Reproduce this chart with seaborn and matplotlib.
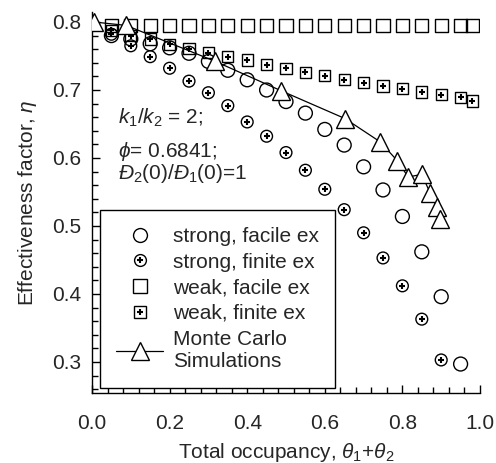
import matplotlib
matplotlib.use("Agg")
import matplotlib.pyplot as plt
from matplotlib.lines import Line2D
from matplotlib.legend_handler import HandlerTuple
from matplotlib.ticker import MultipleLocator, FormatStrFormatter
import seaborn as sns

# Total occupancy values for the model curves
theta_strong_facile = [0.05, 0.10, 0.15, 0.20, 0.25, 0.30, 0.35, 0.40, 0.45, 0.50,
                       0.55, 0.60, 0.65, 0.70, 0.75, 0.80, 0.85, 0.90, 0.95]
eta_strong_facile = [0.780, 0.775, 0.768, 0.762, 0.754, 0.742, 0.729, 0.715, 0.700, 0.683,
                     0.666, 0.642, 0.619, 0.587, 0.553, 0.514, 0.462, 0.396, 0.297]

theta_strong_finite = [0.05, 0.10, 0.15, 0.20, 0.25, 0.30, 0.35, 0.40, 0.45, 0.50,
                       0.55, 0.60, 0.65, 0.70, 0.75, 0.80, 0.85, 0.90]
eta_strong_finite = [0.782, 0.765, 0.749, 0.732, 0.713, 0.696, 0.677, 0.653, 0.632, 0.608,
                     0.582, 0.554, 0.524, 0.490, 0.453, 0.412, 0.363, 0.303]

theta_weak = [0.05, 0.10, 0.15, 0.20, 0.25, 0.30, 0.35, 0.40, 0.45, 0.50,
              0.55, 0.60, 0.65, 0.70, 0.75, 0.80, 0.85, 0.90, 0.95, 0.98]
eta_weak_facile = [0.795] * 20
eta_weak_finite = [0.788, 0.780, 0.775, 0.767, 0.761, 0.755, 0.749, 0.744, 0.737, 0.732,
                   0.726, 0.721, 0.715, 0.711, 0.706, 0.702, 0.697, 0.693, 0.689, 0.684]

# Monte Carlo simulation results
theta_mc = [0.005, 0.088, 0.318, 0.487, 0.652, 0.742, 0.787, 0.815, 0.850, 0.871, 0.888, 0.897]
eta_mc = [0.800, 0.795, 0.742, 0.699, 0.658, 0.624, 0.596, 0.572, 0.576, 0.549, 0.528, 0.511]

x_ticks = [0.0, 0.2, 0.4, 0.6, 0.8, 1.0]
y_ticks = [0.3, 0.4, 0.5, 0.6, 0.7, 0.8]

sns.set_style("ticks")
plt.rcParams["font.family"] = ["Liberation Sans", "DejaVu Sans"]
plt.rcParams["mathtext.fontset"] = "custom"
plt.rcParams["mathtext.rm"] = "Liberation Sans"
plt.rcParams["mathtext.it"] = "Liberation Sans:italic"
plt.rcParams["mathtext.bf"] = "Liberation Sans:bold"

FS = 15
fig = plt.figure(figsize=(4.96, 4.63), dpi=100)
ax = fig.add_axes([92 / 496, 1 - 393 / 463, 388 / 496, 381 / 463])

open_kw = dict(facecolor="none", edgecolor="black", color="black", linewidth=1.0, legend=False)
plus_kw = dict(color="black", linewidth=1.5, legend=False)

# strong adsorption, facile exchange
sns.scatterplot(x=theta_strong_facile, y=eta_strong_facile, marker="o", s=100, ax=ax, **open_kw)
# strong adsorption, finite exchange
sns.scatterplot(x=theta_strong_finite, y=eta_strong_finite, marker="o", s=72, ax=ax, **open_kw)
sns.scatterplot(x=theta_strong_finite, y=eta_strong_finite, marker="+", s=14, ax=ax, **plus_kw)
# weak adsorption, facile exchange
sns.scatterplot(x=theta_weak, y=eta_weak_facile, marker="s", s=92, ax=ax, **open_kw)
# weak adsorption, finite exchange
sns.scatterplot(x=theta_weak, y=eta_weak_finite, marker="s", s=66, ax=ax, **open_kw)
sns.scatterplot(x=theta_weak, y=eta_weak_finite, marker="+", s=16, ax=ax, **plus_kw)
# Monte Carlo
sns.lineplot(x=theta_mc, y=eta_mc, estimator=None, sort=False, color="black", linewidth=0.9,
             marker="^", markersize=12.5, markerfacecolor="white", markeredgecolor="black",
             markeredgewidth=1.0, ax=ax, legend=False, zorder=5)

ax.set_xlim(0.0, 1.0)
ax.set_ylim(0.2544, 0.8147)
ax.set_xticks(x_ticks)
ax.set_yticks(y_ticks)
ax.xaxis.set_minor_locator(MultipleLocator(0.04))
ax.yaxis.set_minor_locator(MultipleLocator(0.02))
ax.xaxis.set_major_formatter(FormatStrFormatter("%.1f"))
ax.yaxis.set_major_formatter(FormatStrFormatter("%.1f"))
ax.tick_params(which="both", direction="in", color="black", width=1.0, labelsize=FS)
ax.tick_params(which="major", length=6)
ax.tick_params(which="minor", length=4)
ax.tick_params(axis="x", which="both", pad=15)
ax.tick_params(axis="y", which="both", pad=8)
for side in ("top", "right"):
    ax.spines[side].set_visible(False)
for side in ("left", "bottom"):
    ax.spines[side].set_color("black")
    ax.spines[side].set_linewidth(1.0)

ax.set_xlabel(r"Total occupancy, $\theta_1$+$\theta_2$", fontsize=FS, labelpad=6)
ax.set_ylabel(r"Effectiveness factor, $\eta$", fontsize=FS, labelpad=9)

ax.text(0.067, 0.651, r"$k_1/k_2$ = 2;", fontsize=FS, va="baseline")
ax.text(0.067, 0.602, r"$\phi$= 0.6841;", fontsize=FS, va="baseline")
ax.text(0.067, 0.569, r"$\mathit{Đ}_2$(0)/$\mathit{Đ}_1$(0)=1", fontsize=FS, va="baseline")

h_sfac = Line2D([], [], ls="", marker="o", ms=10, mfc="none", mec="black", mew=1.0)
h_sfin_c = Line2D([], [], ls="", marker="o", ms=8.5, mfc="none", mec="black", mew=1.0)
h_sfin_p = Line2D([], [], ls="", marker="+", ms=3.8, mec="black", mew=1.5)
h_wfac = Line2D([], [], ls="", marker="s", ms=9.4, mfc="none", mec="black", mew=1.0)
h_wfin_s = Line2D([], [], ls="", marker="s", ms=8, mfc="none", mec="black", mew=1.0)
h_wfin_p = Line2D([], [], ls="", marker="+", ms=4, mec="black", mew=1.5)
h_mc = Line2D([], [], color="black", lw=0.9, marker="^", ms=12.5, mfc="white", mec="black", mew=1.0)

leg = ax.legend(
    [h_sfac, (h_sfin_c, h_sfin_p), h_wfac, (h_wfin_s, h_wfin_p), h_mc],
    ["strong, facile ex", "strong, finite ex", "weak, facile ex", "weak, finite ex",
     "Monte Carlo\nSimulations"],
    handler_map={tuple: HandlerTuple(ndivide=1)},
    loc="lower left", bbox_to_anchor=(0.02, 0.013), borderaxespad=0,
    fontsize=FS, frameon=True, fancybox=False, edgecolor="black", framealpha=1,
    handlelength=2.25, handletextpad=0.45, labelspacing=0.32, borderpad=0.8,
)
leg.get_frame().set_linewidth(1.0)
for t in leg.get_texts():
    t.set_linespacing(1.25)

fig.savefig("out.png", dpi=100)
